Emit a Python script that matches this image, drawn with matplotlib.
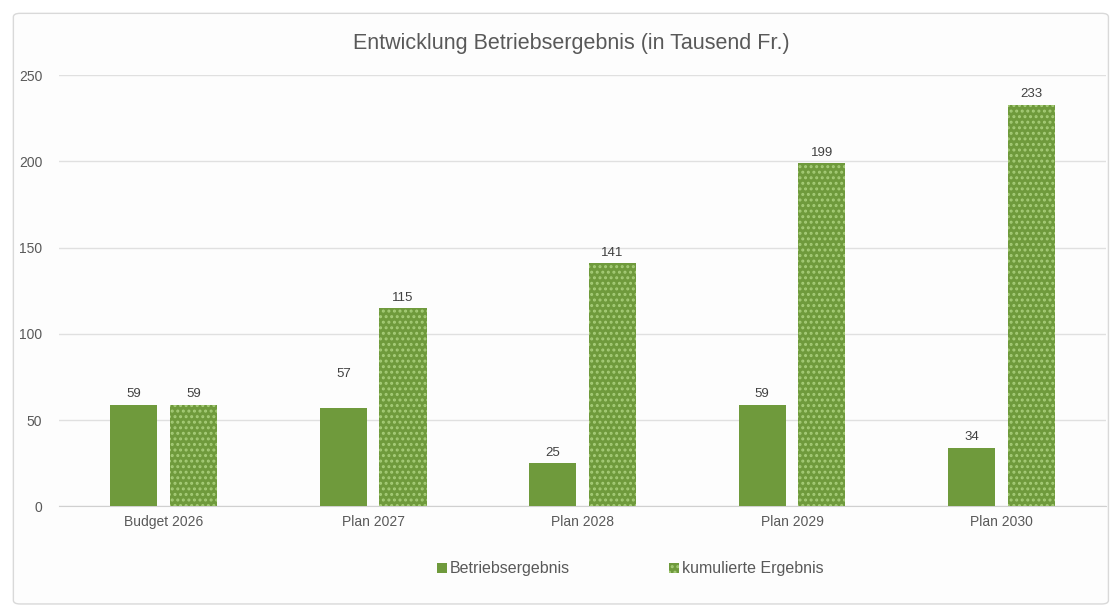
import numpy as np
import matplotlib.pyplot as plt
from matplotlib.patches import FancyBboxPatch, Patch

categories = ['Budget 2026', 'Plan 2027', 'Plan 2028', 'Plan 2029', 'Plan 2030']
betriebsergebnis = [59, 57, 25, 59, 34]
kumuliert = [59, 115, 141, 199, 233]
series_names = ['Betriebsergebnis', 'kumulierte Ergebnis']

green = '#6f9a3c'
dots = '#a6cc78'
text_col = '#595959'

plt.rcParams['font.family'] = ['Liberation Sans', 'DejaVu Sans']
plt.rcParams['hatch.linewidth'] = 1.4

fig = plt.figure(figsize=(11.14, 6.07), dpi=100)
fig.patch.set_facecolor('white')
# rounded chart-area frame, behind everything
frame = FancyBboxPatch((0.012, 0.005), 0.983, 0.973,
                       boxstyle='round,pad=0,rounding_size=0.006',
                       transform=fig.transFigure, facecolor='#fdfdfd',
                       edgecolor='#d9d9d9', linewidth=1.0, zorder=-10)
fig.patches.append(frame)

ax = fig.add_axes([0.053, 0.166, 0.94, 0.71])
ax.set_zorder(1)
ax.set_facecolor('none')

x = np.arange(len(categories))
w = 0.225
gap = 0.06
b1 = ax.bar(x - (w + gap) / 2, betriebsergebnis, w, color=green, zorder=3)
b2 = ax.bar(x + (w + gap) / 2, kumuliert, w, color=green, edgecolor=dots,
            hatch='...', linewidth=0, zorder=3)

# data labels (57 label was moved up in the original)
for i, r in enumerate(b1):
    off = 20 if i == 1 else 3
    ax.annotate(str(betriebsergebnis[i]), (r.get_x() + r.get_width() / 2, r.get_height()),
                xytext=(0, off), textcoords='offset points', ha='center', va='bottom',
                fontsize=9.5, color='#404040')
for i, r in enumerate(b2):
    ax.annotate(str(kumuliert[i]), (r.get_x() + r.get_width() / 2, r.get_height()),
                xytext=(0, 3), textcoords='offset points', ha='center', va='bottom',
                fontsize=9.5, color='#404040')

ax.set_xlim(-0.5, len(categories) - 0.5)
ax.set_ylim(0, 250)
ax.set_yticks([0, 50, 100, 150, 200, 250])
ax.grid(axis='y', color='#e0e0e0', linewidth=1.0, zorder=0)
ax.set_xticks(x)
ax.set_xticklabels(categories)
ax.tick_params(axis='both', length=0, labelsize=10, colors=text_col)
ax.tick_params(axis='x', pad=6)
ax.tick_params(axis='y', pad=12)
for s in ['top', 'right', 'left']:
    ax.spines[s].set_visible(False)
ax.spines['bottom'].set_color('#d0d0d0')

fig.text(0.513, 0.928, 'Entwicklung Betriebsergebnis (in Tausend Fr.)',
         ha='center', va='center', fontsize=15.5, color=text_col)

handles = [Patch(facecolor=green, label=series_names[0]),
           Patch(facecolor=green, edgecolor=dots, hatch='...', linewidth=0, label=series_names[1])]
fig.legend(handles=handles, loc='center', bbox_to_anchor=(0.566, 0.063), ncol=2,
           frameon=False, fontsize=11.5, handlelength=0.6, handleheight=0.6,
           handletextpad=0.2, columnspacing=6.2, labelcolor=text_col)

fig.savefig('out.png', dpi=100)
